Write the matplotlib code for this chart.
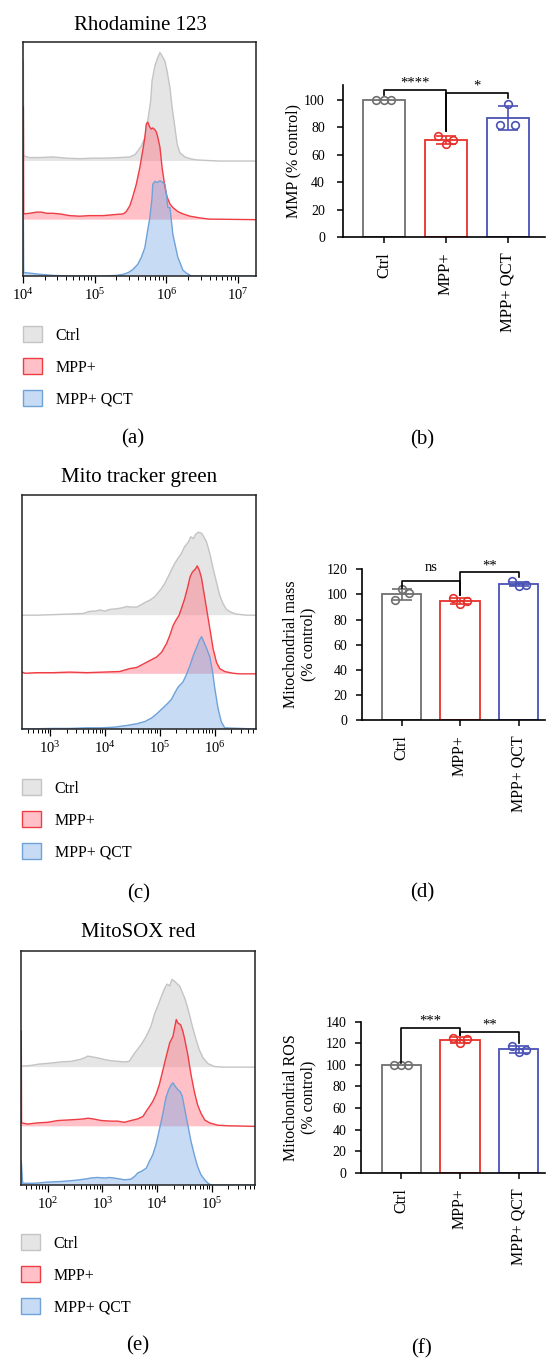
import numpy as np
import matplotlib
matplotlib.use('Agg')
import matplotlib.pyplot as plt
from matplotlib.patches import Patch

plt.rcParams['font.family'] = ['Liberation Serif', 'DejaVu Serif']
plt.rcParams['mathtext.fontset'] = 'stix'

W, H = 550, 1358

groups = ['Ctrl', 'MPP+', 'MPP+ QCT']

# ---------------- Histogram data (log10 intensity, height in band units) -------------
# Rhodamine 123
rho_ctrl_lg = [4.005, 4.01, 4.09, 4.23, 4.42, 4.60, 4.79, 4.98, 5.16, 5.35, 5.49, 5.56, 5.60, 5.65, 5.70,
               5.74, 5.78, 5.80, 5.84, 5.87, 5.91, 5.94, 5.98, 6.01, 6.05, 6.08, 6.12, 6.15, 6.19,
               6.26, 6.33, 6.42, 6.56, 6.74, 7.25]
rho_ctrl_h = [1.72, 0.09, 0.06, 0.06, 0.07, 0.05, 0.04, 0.05, 0.05, 0.06, 0.07, 0.11, 0.17, 0.26, 0.40,
              0.69, 1.03, 1.38, 1.64, 1.75, 1.87, 1.81, 1.72, 1.55, 1.26, 0.92, 0.57, 0.29, 0.14,
              0.07, 0.04, 0.02, 0.01, 0.00, 0.00]
rho_mpp_lg = [4.005, 4.01, 4.09, 4.19, 4.26, 4.33, 4.42, 4.51, 4.65, 4.79, 4.93, 5.12, 5.30, 5.40, 5.44,
              5.49, 5.53, 5.58, 5.63, 5.67, 5.70, 5.72, 5.74, 5.77, 5.79, 5.81, 5.84, 5.86, 5.88,
              5.91, 5.94, 5.98, 6.01, 6.05, 6.09, 6.16, 6.23, 6.33, 6.47, 6.60, 7.25]
rho_mpp_h = [1.94, 0.10, 0.11, 0.13, 0.13, 0.11, 0.11, 0.10, 0.07, 0.06, 0.07, 0.07, 0.09, 0.10, 0.14,
             0.24, 0.39, 0.61, 0.90, 1.19, 1.42, 1.65, 1.68, 1.59, 1.56, 1.58, 1.55, 1.51, 1.42,
             1.25, 0.90, 0.56, 0.39, 0.27, 0.21, 0.14, 0.10, 0.06, 0.03, 0.01, 0.00]
rho_qct_lg = [4.005, 4.01, 4.09, 4.23, 4.42, 4.65, 5.12, 5.30, 5.40, 5.47, 5.53, 5.60, 5.65, 5.70, 5.73,
              5.77, 5.80, 5.81, 5.84, 5.87, 5.91, 5.94, 5.98, 6.00, 6.02, 6.05, 6.07, 6.09, 6.13,
              6.16, 6.20, 6.23, 6.28, 6.35, 7.25]
rho_qct_h = [1.09, 0.06, 0.05, 0.03, 0.01, 0.00, 0.00, 0.01, 0.03, 0.06, 0.11, 0.20, 0.32, 0.49, 0.72,
             1.01, 1.35, 1.58, 1.63, 1.61, 1.64, 1.62, 1.58, 1.41, 1.18, 1.18, 0.95, 0.72, 0.49,
             0.32, 0.20, 0.10, 0.05, 0.00, 0.00]

# Mito tracker green
mtg_ctrl_lg = [2.49, 2.76, 3.06, 3.36, 3.61, 3.70, 3.76, 3.82, 3.91, 4.00, 4.09, 4.21, 4.33, 4.39, 4.48,
               4.58, 4.64, 4.73, 4.82, 4.91, 4.97, 5.03, 5.09, 5.15, 5.21, 5.27, 5.33, 5.39, 5.45,
               5.52, 5.56, 5.61, 5.65, 5.70, 5.76, 5.80, 5.85, 5.91, 5.97, 6.03, 6.09, 6.15, 6.21,
               6.30, 6.39, 6.58, 6.75]
mtg_ctrl_h = [0.00, 0.00, 0.01, 0.02, 0.03, 0.06, 0.07, 0.07, 0.09, 0.07, 0.10, 0.11, 0.13, 0.15, 0.14,
              0.14, 0.17, 0.22, 0.26, 0.32, 0.39, 0.46, 0.55, 0.66, 0.78, 0.89, 0.98, 1.06, 1.18,
              1.26, 1.35, 1.32, 1.39, 1.43, 1.41, 1.35, 1.26, 1.06, 0.80, 0.57, 0.34, 0.20, 0.10,
              0.05, 0.02, 0.00, 0.00]
mtg_mpp_lg = [2.49, 2.55, 2.76, 3.06, 3.36, 3.67, 3.97, 4.27, 4.45, 4.58, 4.70, 4.82, 4.94, 5.03, 5.12,
              5.18, 5.24, 5.29, 5.35, 5.39, 5.45, 5.50, 5.55, 5.59, 5.65, 5.68, 5.72, 5.76, 5.80,
              5.84, 5.88, 5.92, 5.97, 6.03, 6.09, 6.18, 6.33, 6.45, 6.75]
mtg_mpp_h = [0.03, 0.01, 0.02, 0.02, 0.03, 0.02, 0.03, 0.04, 0.09, 0.11, 0.17, 0.23, 0.29, 0.37, 0.52,
             0.66, 0.83, 0.92, 1.01, 1.12, 1.29, 1.47, 1.67, 1.75, 1.81, 1.86, 1.78, 1.64, 1.41,
             1.18, 0.95, 0.72, 0.43, 0.20, 0.09, 0.04, 0.01, 0.00, 0.00]
mtg_qct_lg = [2.49, 3.06, 3.36, 3.67, 3.91, 4.15, 4.39, 4.58, 4.73, 4.85, 4.94, 5.03, 5.12, 5.21, 5.27,
              5.33, 5.42, 5.48, 5.55, 5.61, 5.67, 5.72, 5.76, 5.80, 5.85, 5.91, 5.96, 6.00, 6.06,
              6.12, 6.18, 6.75]
mtg_qct_h = [0.00, 0.01, 0.01, 0.02, 0.02, 0.03, 0.06, 0.09, 0.13, 0.19, 0.26, 0.34, 0.42, 0.51, 0.62,
             0.72, 0.81, 0.93, 1.10, 1.27, 1.41, 1.53, 1.59, 1.50, 1.39, 1.24, 0.98, 0.70, 0.35,
             0.12, 0.02, 0.00]

# MitoSOX red
mxr_ctrl_lg = [1.51, 1.57, 1.70, 1.82, 1.94, 2.06, 2.24, 2.43, 2.58, 2.67, 2.73, 2.79, 2.91, 3.04, 3.16,
               3.28, 3.40, 3.49, 3.55, 3.62, 3.71, 3.80, 3.89, 3.95, 4.01, 4.07, 4.13, 4.18, 4.23,
               4.27, 4.32, 4.37, 4.41, 4.45, 4.50, 4.55, 4.59, 4.65, 4.71, 4.77, 4.84, 4.93, 5.05,
               5.23, 5.79]
mxr_ctrl_h = [0.02, 0.02, 0.03, 0.05, 0.06, 0.07, 0.09, 0.10, 0.13, 0.16, 0.19, 0.18, 0.16, 0.13, 0.11,
              0.10, 0.09, 0.10, 0.19, 0.28, 0.39, 0.53, 0.71, 0.91, 1.05, 1.20, 1.34, 1.43, 1.40,
              1.51, 1.48, 1.43, 1.40, 1.31, 1.20, 1.05, 0.91, 0.68, 0.48, 0.30, 0.16, 0.06, 0.01,
              0.00, 0.00]
mxr_mpp_lg = [1.515, 1.52, 1.63, 1.82, 2.00, 2.18, 2.37, 2.55, 2.67, 2.73, 2.82, 2.98, 3.16, 3.28, 3.40,
              3.52, 3.65, 3.74, 3.80, 3.86, 3.92, 3.98, 4.04, 4.10, 4.16, 4.23, 4.29, 4.32, 4.35,
              4.38, 4.43, 4.47, 4.50, 4.56, 4.62, 4.68, 4.74, 4.80, 4.87, 4.96, 5.11, 5.29, 5.79]
mxr_mpp_h = [1.64, 0.06, 0.04, 0.06, 0.07, 0.10, 0.11, 0.12, 0.13, 0.14, 0.13, 0.10, 0.09, 0.09, 0.07,
             0.10, 0.13, 0.17, 0.26, 0.34, 0.43, 0.55, 0.72, 0.95, 1.18, 1.44, 1.55, 1.70, 1.84,
             1.78, 1.75, 1.64, 1.52, 1.24, 0.89, 0.60, 0.37, 0.23, 0.11, 0.06, 0.02, 0.01, 0.00]
mxr_qct_lg = [1.515, 1.54, 1.76, 2.00, 2.24, 2.49, 2.67, 2.79, 2.91, 3.04, 3.13, 3.28, 3.40, 3.52, 3.59,
              3.65, 3.72, 3.80, 3.86, 3.92, 3.98, 4.04, 4.10, 4.16, 4.21, 4.26, 4.29, 4.33, 4.38,
              4.42, 4.46, 4.50, 4.56, 4.62, 4.68, 4.74, 4.80, 4.87, 4.93, 4.99, 5.79]
mxr_qct_h = [0.41, 0.03, 0.03, 0.05, 0.06, 0.08, 0.10, 0.12, 0.13, 0.12, 0.13, 0.11, 0.09, 0.10, 0.15,
             0.21, 0.24, 0.29, 0.41, 0.52, 0.70, 0.95, 1.21, 1.50, 1.64, 1.73, 1.76, 1.70, 1.64,
             1.61, 1.53, 1.33, 1.04, 0.75, 0.52, 0.32, 0.18, 0.09, 0.03, 0.00, 0.00]

# ---------------- Bar chart data (% control, n = 3) -------------
mmp_values = [[100, 100, 100], [73.5, 67.5, 70.6], [81.5, 96.8, 81.5]]
mass_values = [[95.5, 104.0, 100.8], [97.4, 92.0, 94.7], [110.4, 106.9, 107.5]]
ros_values = [[100, 100, 100], [125.2, 119.9, 123.9], [117.7, 111.6, 113.7]]

# ---------------- Styles -------------
hist_fill = [(0.80, 0.80, 0.80, 0.5), (1.0, 0.40, 0.46, 0.40), (0.45, 0.65, 0.90, 0.40)]
hist_line = ['#c4c4c4', '#ef3d44', '#6ea2d9']
bar_colors = ['#707070', '#e8302a', '#4a52b5']
jitter = [-0.12, 0.0, 0.12]

fig = plt.figure(figsize=(W / 100, H / 100), dpi=100)


def px_axes(l, t, r, b):
    return fig.add_axes([l / W, 1 - b / H, (r - l) / W, (b - t) / H])


def hist_panel(box, xlim, offsets, curves, title, title_xy, legend_xy, letter_xy, letter):
    ax = px_axes(*box)
    for (lg, h), off, fc, lc in zip(curves, offsets, hist_fill, hist_line):
        x = 10 ** np.asarray(lg)
        y = off + np.asarray(h)
        ax.fill_between(x, off, y, facecolor=fc, edgecolor='none', lw=0)
        ax.plot(x, y, color=lc, lw=1.0)
    ax.set_xscale('log')
    ax.set_xlim(10 ** xlim[0], 10 ** xlim[1])
    ax.set_ylim(0, 4.03)
    ax.set_yticks([])
    for s in ax.spines.values():
        s.set_linewidth(1.1)
        s.set_color('#222222')
    ax.tick_params(axis='x', which='major', length=5, width=0.9, direction='out', labelsize=10.5, pad=3)
    ax.tick_params(axis='x', which='minor', length=3, width=0.7, direction='out')
    fig.text(title_xy[0] / W, 1 - title_xy[1] / H, title, ha='center', va='baseline', fontsize=15)
    handles = [Patch(facecolor=fc, edgecolor=lc, lw=1.0) for fc, lc in zip(hist_fill, hist_line)]
    fig.legend(handles, groups, loc='upper left', bbox_to_anchor=(legend_xy[0] / W, 1 - legend_xy[1] / H),
               frameon=False, borderpad=0, borderaxespad=0, handlelength=1.2, handleheight=1.2,
               handletextpad=0.85, labelspacing=0.9, fontsize=11.5)
    fig.text(letter_xy[0] / W, 1 - letter_xy[1] / H, letter, ha='center', va='center', fontsize=15)
    return ax


def bar_panel(box, values, ylim, yticks, xlim, width, ylabel, label_x, ytick_pad, ytick_size, xtick_size,
              brackets, letter_xy, letter):
    ax = px_axes(*box)
    pos = np.arange(len(groups))
    for i, (vals, c) in enumerate(zip(values, bar_colors)):
        vals = np.asarray(vals, dtype=float)
        m = vals.mean()
        sd = vals.std(ddof=1)
        ax.bar(pos[i], m, width=width, facecolor='white', edgecolor=c, lw=1.3, zorder=2)
        if sd > 0.5:
            ax.errorbar(pos[i], m, yerr=sd, color=c, capsize=7.5, elinewidth=1.2, capthick=1.2, zorder=3)
        ax.plot(pos[i] + np.asarray(jitter), vals, 'o', mfc='none', mec=c, mew=1.2, ms=5.5, zorder=4,
                clip_on=False)
    for (i1, i2, ytop, yb1, yb2, txt, ytxt) in brackets:
        ax.plot([i1, i1, i2, i2], [yb1, ytop, ytop, yb2], color='black', lw=1.2, clip_on=False, zorder=5)
        ax.text((i1 + i2) / 2, ytxt, txt, ha='center', va='baseline', fontsize=10.5, clip_on=False)
    ax.set_xlim(*xlim)
    ax.set_ylim(*ylim)
    ax.set_yticks(yticks)
    ax.set_xticks(pos)
    ax.set_xticklabels(groups, rotation=90, fontsize=xtick_size)
    ax.spines['top'].set_visible(False)
    ax.spines['right'].set_visible(False)
    for s in ['left', 'bottom']:
        ax.spines[s].set_linewidth(1.2)
    ax.tick_params(axis='y', length=4, width=1.1, pad=ytick_pad, labelsize=ytick_size)
    ax.tick_params(axis='x', length=4, width=1.1, pad=7)
    ax.set_ylabel(ylabel, fontsize=11.5, linespacing=1.1)
    ax.yaxis.set_label_coords(label_x, 0.5)
    fig.text(letter_xy[0] / W, 1 - letter_xy[1] / H, letter, ha='center', va='center', fontsize=15)
    return ax


# (a)
hist_panel((23, 42, 256, 276), (4.0, 7.25), [1.98, 0.97, 0.0],
           [(rho_ctrl_lg, rho_ctrl_h), (rho_mpp_lg, rho_mpp_h), (rho_qct_lg, rho_qct_h)],
           'Rhodamine 123', (140, 30), (23, 326), (133, 439), '(a)')
# (c)
hist_panel((22, 495, 256, 729), (2.49, 6.75), [1.96, 0.95, 0.0],
           [(mtg_ctrl_lg, mtg_ctrl_h), (mtg_mpp_lg, mtg_mpp_h), (mtg_qct_lg, mtg_qct_h)],
           'Mito tracker green', (139, 482), (22, 779), (139, 894), '(c)')
# (e)
hist_panel((21, 951, 255, 1185), (1.51, 5.79), [2.03, 1.01, 0.0],
           [(mxr_ctrl_lg, mxr_ctrl_h), (mxr_mpp_lg, mxr_mpp_h), (mxr_qct_lg, mxr_qct_h)],
           'MitoSOX red', (138, 937), (21, 1234), (138, 1346), '(e)')

# (b)
bar_panel((343, 85, 545, 237), mmp_values, (0, 110.6), [0, 20, 40, 60, 80, 100], (-0.66, 2.6), 0.68,
          'MMP (% control)', -0.208, 9, 10, 12,
          [(0, 1, 107, 103, 77, '****', 109.4), (1, 2, 104.6, 77, 101, '*', 107)],
          (422, 440), '(b)')
# (d)
bar_panel((362, 569.3, 545, 720), mass_values, (0, 120), [0, 20, 40, 60, 80, 100, 120], (-0.675, 2.45), 0.67,
          'Mitochondrial mass\n(% control)', -0.251, 6.5, 10, 11.5,
          [(0, 1, 110.9, 104.8, 99.5, 'ns', 118.6), (1, 2, 117.6, 99.5, 113.6, '**', 120.2)],
          (422, 893), '(d)')
# (f)
bar_panel((361, 1021.7, 545, 1172.7), ros_values, (0, 140), [0, 20, 40, 60, 80, 100, 120, 140], (-0.69, 2.45), 0.67,
          'Mitochondrial ROS\n(% control)', -0.245, 6.5, 10, 11.5,
          [(0, 1, 133.9, 101.4, 127.7, '***', 137), (1, 2, 130.7, 127.7, 120, '**', 133.9)],
          (421, 1349), '(f)')

fig.savefig('out.png', dpi=100)
